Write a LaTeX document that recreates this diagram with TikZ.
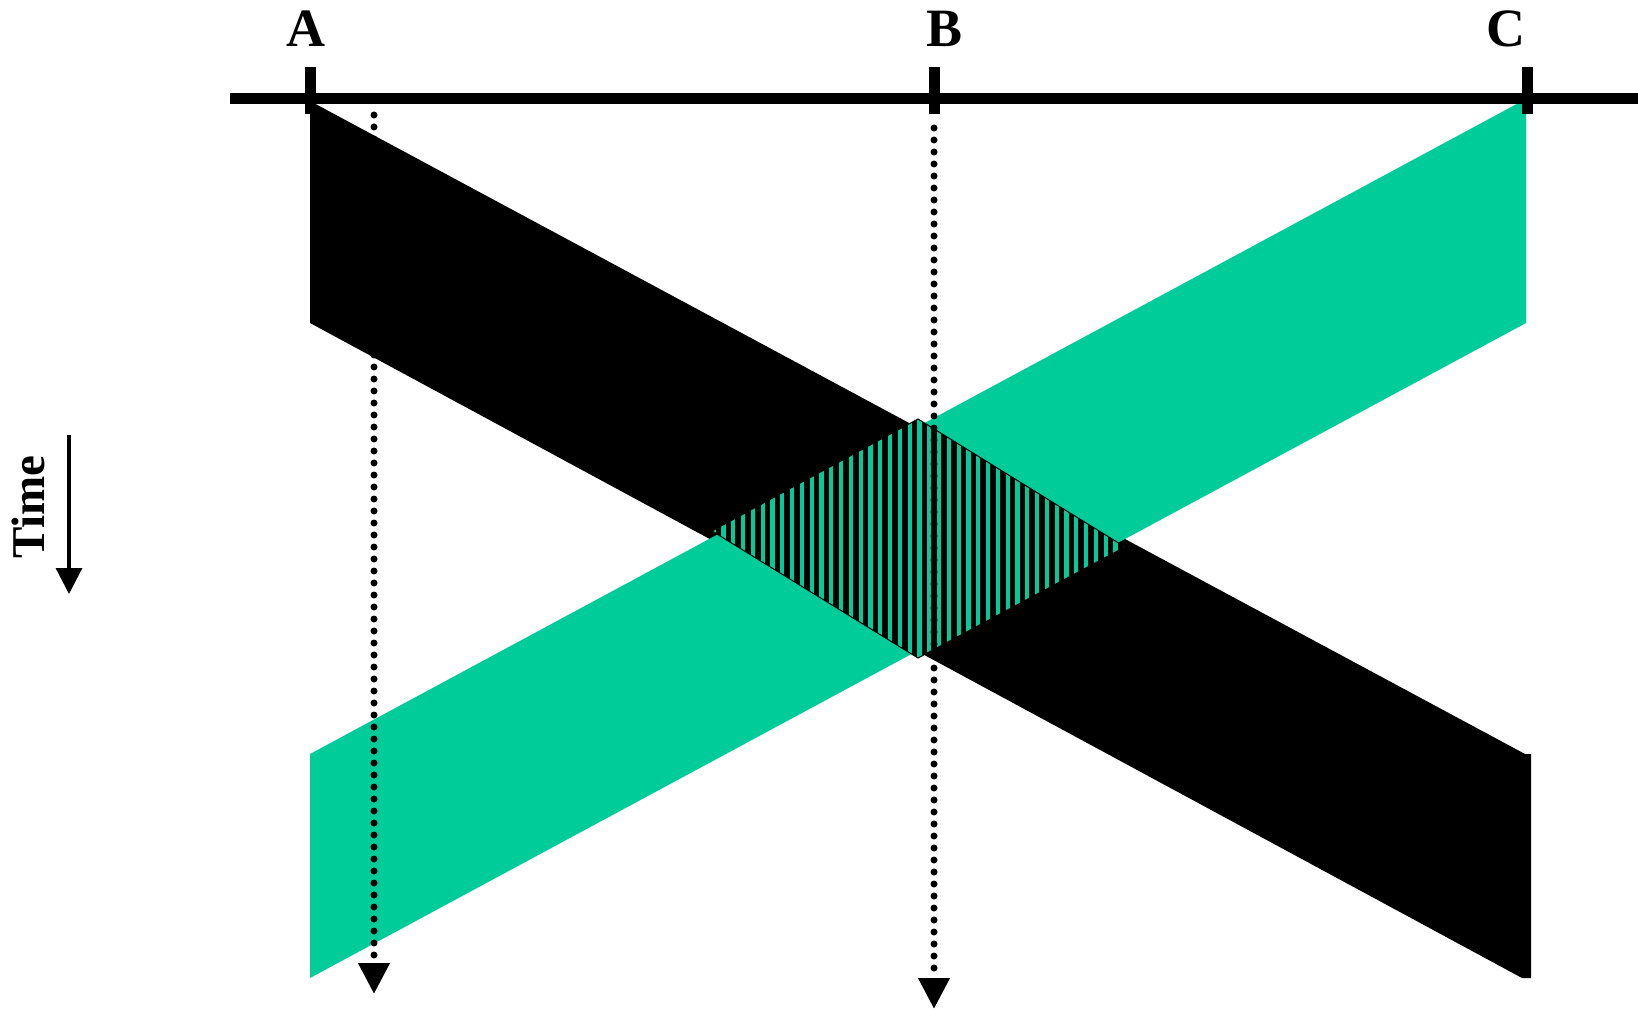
\documentclass[tikz,border=0pt]{standalone}
\usepackage{fontspec}
\setmainfont{Liberation Serif}
\usetikzlibrary{arrows.meta}
\definecolor{band}{RGB}{0,204,153}
\tikzset{
  lbl/.style={font=\fontsize{27pt}{30pt}\selectfont\bfseries, inner sep=0pt, anchor=center},
  axisline/.style={line width=5.5pt, line cap=butt},
  tickline/.style={line width=5.5pt, line cap=butt},
  dotline/.style={line width=3.5pt, line cap=round, dash pattern=on 0pt off 6pt,
     -{Triangle[length=15.5pt,width=15pt]}},
  timearrow/.style={line width=1.6pt, -{Triangle[length=13pt,width=13pt]}}
}
\begin{document}
\begin{tikzpicture}[x=0.5pt,y=-0.5pt]
\useasboundingbox (0,0) rectangle (1638,1010);
% black band
\fill[black] (310,101) -- (1525,754) -- (1531,754) -- (1531,978) -- (1522,978) -- (310,323) -- cycle;
% green band
\fill[band] (310,754) -- (1526,99) -- (1526,323) -- (310,978) -- cycle;
% hatched diamond
\coordinate (dT) at (918,419);
\coordinate (dL) at (712,531);
\coordinate (dB) at (918,658);
\coordinate (dR) at (1125,547);
\fill[band] (dT) -- (dR) -- (dB) -- (dL) -- cycle;
\begin{scope}
  \clip (dT) -- (dR) -- (dB) -- (dL) -- cycle;
  \foreach \i in {0,...,44} {
    \fill[black] ({706+\i*9.8},410) rectangle ({706+\i*9.8+5.6},670);
  }
\end{scope}
\draw[black, line width=0.5pt] (dT) -- (dR) -- (dB) -- (dL) -- cycle;
% axis
\coordinate (axL) at (230,99);
\coordinate (axR) at (1638,99);
\draw[axisline] (axL) -- (axR);
\coordinate (tA1) at (310,67); \coordinate (tA2) at (310,114);
\coordinate (tB1) at (934,67); \coordinate (tB2) at (934,114);
\coordinate (tC1) at (1527,67); \coordinate (tC2) at (1527,114);
\draw[tickline] (tA1) -- (tA2);
\draw[tickline] (tB1) -- (tB2);
\draw[tickline] (tC1) -- (tC2);
% labels
\node[lbl] (labA) at (306,29) {A};
\node[lbl] (labB) at (944,29) {B};
\node[lbl] (labC) at (1506,29) {C};
% dotted time lines
\coordinate (pA1) at (374,115);
\coordinate (pA2) at (374,994);
\coordinate (pB1) at (934,128);
\coordinate (pB2) at (934,1009);
\draw[dotline] (pA1) -- (pA2);
\draw[dotline] (pB1) -- (pB2);
% time arrow
\node[font=\fontsize{23.5pt}{26pt}\selectfont\bfseries, rotate=90, inner sep=0pt] (time) at (28,507) {Time};
\coordinate (tm1) at (69,435);
\coordinate (tm2) at (69,594);
\draw[timearrow] (tm1) -- (tm2);
\end{tikzpicture}
\end{document}
